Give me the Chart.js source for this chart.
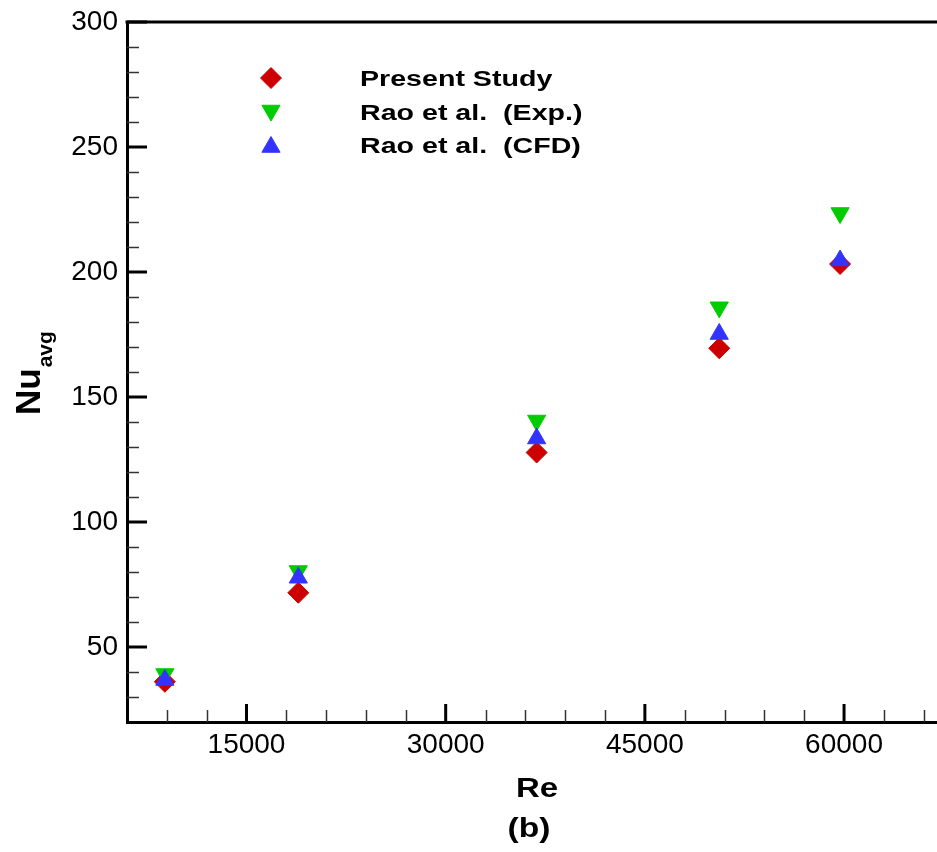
<!DOCTYPE html>
<html>
<head>
<meta charset="utf-8">
<script src="https://cdn.jsdelivr.net/npm/chart.js@4.4.1/dist/chart.umd.min.js"></script>
<style>
  html, body { margin: 0; padding: 0; background: #fff; }
  #wrap { width: 937px; height: 852px; position: relative; }
</style>
</head>
<body>
<div id="wrap"><canvas id="canvas"></canvas></div>
<script>
// Re of the five cases and the average Nusselt numbers
var reValues  = [8850, 18900, 36850, 50600, 59700];
var nuPresent = [36.1, 71.7, 127.8, 169.5, 203.2];
var nuRaoExp  = [39.2, 80.4, 140.6, 185.9, 223.6];
var nuRaoCfd  = [36.8, 77.7, 133.4, 175.2, 204.6];

var seriesNames = ['Present Study', 'Rao et al.  (Exp.)', 'Rao et al.  (CFD)'];

var xTicks = [15000, 30000, 45000, 60000];
var yTicks = [50, 100, 150, 200, 250, 300];
var xMinorStep = 3000;
var yMinorStep = 10;

var FONT = '"Liberation Sans", Arial, sans-serif';

function pts(ys) {
  var out = [];
  for (let i = 0; i < reValues.length; i++) {
    out.push({ x: reValues[i], y: ys[i] });
  }
  return out;
}

// draw text stretched horizontally
function wideText(ctx, txt, x, y, font, sx, align) {
  ctx.save();
  ctx.font = font;
  ctx.textBaseline = 'alphabetic';
  var w = ctx.measureText(txt).width * sx;
  var left = x;
  if (align === 'center') left = x - w / 2;
  ctx.translate(left, y);
  ctx.scale(sx, 1);
  ctx.textAlign = 'left';
  ctx.fillText(txt, 0, 0);
  ctx.restore();
}

function marker(ctx, ds, x, y) {
  ctx.save();
  ctx.fillStyle = ds.backgroundColor;
  ctx.strokeStyle = ds.borderColor;
  ctx.lineWidth = 1;
  if (Chart.helpers && Chart.helpers.drawPoint) {
    Chart.helpers.drawPoint(ctx, {
      pointStyle: ds.pointStyle,
      rotation: ds.rotation || 0,
      radius: ds.pointRadius,
      borderWidth: 1
    }, x, y);
  } else {
    var r = ds.pointRadius;
    ctx.beginPath();
    if (ds.pointStyle === 'rectRot') {
      ctx.moveTo(x, y - r); ctx.lineTo(x + r, y); ctx.lineTo(x, y + r); ctx.lineTo(x - r, y);
    } else {
      var s = ds.rotation ? -1 : 1;
      ctx.moveTo(x, y - s * r);
      ctx.lineTo(x + r * 0.866, y + s * r / 2);
      ctx.lineTo(x - r * 0.866, y + s * r / 2);
    }
    ctx.closePath();
    ctx.fill();
    ctx.stroke();
  }
  ctx.restore();
}

function noPad(s) {
  s.paddingLeft = 0; s.paddingRight = 0; s.paddingTop = 0; s.paddingBottom = 0;
}

var frame = {
  id: 'frame',
  beforeDatasetsDraw(chart) {
    var ctx = chart.ctx;
    var a = chart.chartArea;
    var xs = chart.scales.x, ys = chart.scales.y;
    ctx.save();
    ctx.strokeStyle = '#000';
    // top line
    ctx.lineWidth = 3;
    ctx.beginPath();
    ctx.moveTo(a.left - 1.5, a.top);
    ctx.lineTo(chart.width, a.top);
    ctx.stroke();
    // major ticks
    yTicks.forEach(function (v) {
      var p = ys.getPixelForValue(v);
      ctx.beginPath(); ctx.moveTo(a.left, p); ctx.lineTo(a.left + 20, p); ctx.stroke();
    });
    xTicks.forEach(function (v) {
      var p = xs.getPixelForValue(v);
      ctx.beginPath(); ctx.moveTo(p, a.bottom); ctx.lineTo(p, a.bottom - 18); ctx.stroke();
    });
    // minor ticks
    ctx.lineWidth = 1.5;
    ctx.strokeStyle = '#333';
    for (let v = ys.min + yMinorStep; v < ys.max; v += yMinorStep) {
      if (v % 50 === 0) continue;
      var p = Math.round(ys.getPixelForValue(v)) + 0.5;
      ctx.beginPath(); ctx.moveTo(a.left, p); ctx.lineTo(a.left + 12, p); ctx.stroke();
    }
    for (let v = 9000; v < xs.max; v += xMinorStep) {
      if (v % 15000 === 0) continue;
      var q = Math.round(xs.getPixelForValue(v)) + 0.5;
      ctx.beginPath(); ctx.moveTo(q, a.bottom); ctx.lineTo(q, a.bottom - 12); ctx.stroke();
    }
    ctx.restore();
  },
  afterDraw(chart) {
    var ctx = chart.ctx;
    ctx.save();
    ctx.fillStyle = '#000';
    // legend
    var ly = [78, 112, 145];
    [0, 1, 2].forEach(function (i) {
      var ds = chart.data.datasets[i];
      var dy = ds.pointStyle === 'triangle' ? (ds.rotation ? -1.5 : 2) : 0;
      marker(ctx, ds, 271, ly[i] + dy);
      wideText(ctx, ds.label, 360, ly[i] + 8, 'bold 22px ' + FONT, 1.3, 'left');
    });
    // x axis title and panel tag
    wideText(ctx, 'Re', 537, 797, 'bold 27px ' + FONT, 1.22, 'center');
    wideText(ctx, '(b)', 529, 837, 'bold 28px ' + FONT, 1.2, 'center');
    // y axis title Nu_avg
    ctx.translate(40, 415);
    ctx.rotate(-Math.PI / 2);
    ctx.font = 'bold 35px ' + FONT;
    ctx.textAlign = 'left';
    ctx.textBaseline = 'alphabetic';
    ctx.fillText('Nu', 0, 0);
    var w = ctx.measureText('Nu').width;
    ctx.font = 'bold 21px ' + FONT;
    ctx.fillText('avg', w + 1, 12);
    ctx.restore();
  }
};

const ctx = document.getElementById('canvas');

new Chart(ctx, {
  type: 'scatter',
  data: {
    datasets: [{
      label: seriesNames[0],
      data: pts(nuPresent),
      pointStyle: 'rectRot',
      pointRadius: 10.5,
      backgroundColor: '#cc0000',
      borderColor: '#cc0000',
      borderWidth: 1,
      order: 2
    }, {
      label: seriesNames[1],
      data: pts(nuRaoExp),
      pointStyle: 'triangle',
      rotation: 180,
      pointRadius: 10.5,
      backgroundColor: '#00cc00',
      borderColor: '#00cc00',
      borderWidth: 1,
      order: 1
    }, {
      label: seriesNames[2],
      data: pts(nuRaoCfd),
      pointStyle: 'triangle',
      pointRadius: 10.5,
      backgroundColor: '#3333ff',
      borderColor: '#3333ff',
      borderWidth: 1,
      order: 0
    }]
  },
  options: {
    responsive: true,
    maintainAspectRatio: false,
    animation: false,
    events: [],
    layout: { autoPadding: false, padding: { top: 22, right: 0, left: 0, bottom: 0 } },
    plugins: {
      legend: { display: false },
      tooltip: { enabled: false }
    },
    scales: {
      x: {
        type: 'linear',
        min: 6000,
        max: 67000,
        grid: { display: false },
        border: { display: true, color: '#000', width: 3 },
        afterBuildTicks: function (s) { s.ticks = xTicks.map(function (v) { return { value: v }; }); },
        afterFit: function (s) { s.height = 130; noPad(s); },
        ticks: {
          color: '#000',
          padding: -2,
          maxRotation: 0,
          font: { family: FONT, size: 28 },
          callback: function (v) { return String(v); }
        }
      },
      y: {
        min: 20,
        max: 300,
        grid: { display: false },
        border: { display: true, color: '#000', width: 3 },
        afterBuildTicks: function (s) { s.ticks = yTicks.map(function (v) { return { value: v }; }); },
        afterFit: function (s) { s.width = 127; noPad(s); },
        ticks: {
          color: '#000',
          padding: 1,
          font: { family: FONT, size: 28 },
          callback: function (v) { return String(v); }
        }
      }
    }
  },
  plugins: [frame]
});
</script>
</body>
</html>
